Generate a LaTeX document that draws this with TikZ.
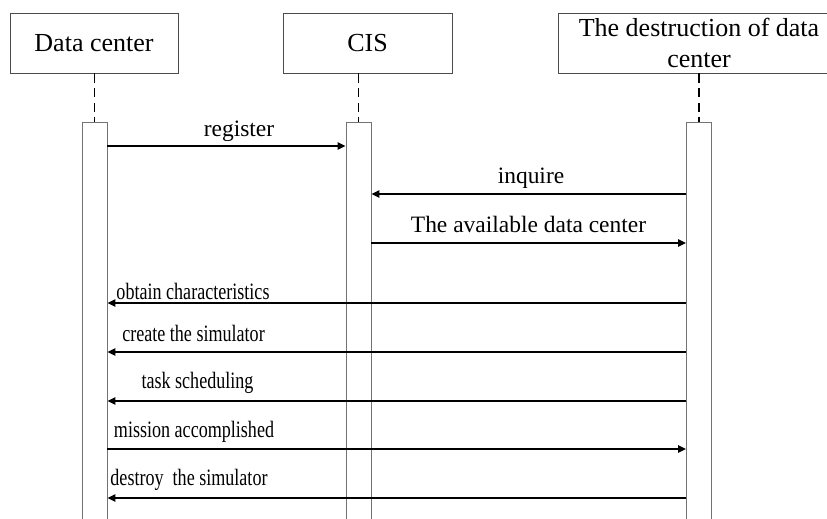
\documentclass[tikz,border=0pt]{standalone}
\usepackage{fontspec}
\setmainfont{Liberation Serif}
\usetikzlibrary{arrows.meta}

\begin{document}
\begin{tikzpicture}[
    x=0.75pt, y=-0.75pt,
    >={Triangle[length=6pt,width=5.5pt]},
    font=\fontsize{19.5}{23.3}\selectfont,
    actor/.style={draw=black!70, line width=0.7pt, minimum height=45pt, inner sep=1pt, align=center},
    bar/.style={draw=black!55, line width=0.7pt, fill=white, minimum width=18.75pt, minimum height=315pt, anchor=north},
    life/.style={line width=1.1pt, dash pattern=on 7pt off 4pt},
    msg/.style={->, line width=1.1pt},
    lbl/.style={anchor=base, font=\fontsize{17.6}{21}\selectfont},
    sqz/.style={lbl, xscale=0.77, transform shape}
]
    \useasboundingbox (0,0) rectangle (827,518);

    % Participants
    \node[actor, minimum width=126pt]   (dc)   at (94,43)  {Data center};
    \node[actor, minimum width=126.75pt] (cis) at (367.5,43) {CIS};
    \node[actor, minimum width=211.5pt] (dest) at (699,43) {The destruction of data\\center};

    % Activation bars (run off the bottom)
    \node[bar] (dcbar)   at (94.5,122)  {};
    \node[bar] (cisbar)  at (358.5,122) {};
    \node[bar] (destbar) at (699,122)   {};

    % Lifelines
    \draw[life] (dc.south -| dcbar.north) -- (dcbar.north);
    \draw[life] (cis.south -| cisbar.north) -- (cisbar.north);
    \draw[life] (dest.south -| destbar.north) -- (destbar.north);

    % Message rows
    \coordinate (m1) at (0,146);
    \coordinate (m2) at (0,194);
    \coordinate (m3) at (0,243);
    \coordinate (m4) at (0,303);
    \coordinate (m5) at (0,352);
    \coordinate (m6) at (0,401);
    \coordinate (m7) at (0,449);
    \coordinate (m8) at (0,498);

    % Messages
    \draw[msg] (dcbar.east |- m1) -- (cisbar.west |- m1);
    \node[lbl] (reg) at (239,136) {register};

    \draw[msg] (destbar.west |- m2) -- (cisbar.east |- m2);
    \node[lbl] (inq) at (531,183) {inquire};

    \draw[msg] (cisbar.east |- m3) -- (destbar.west |- m3);
    \node[lbl] (avail) at (528.5,232) {The available data center};

    \draw[msg] (destbar.west |- m4) -- (dcbar.east |- m4);
    \node[sqz] (obt) at (193,299) {obtain characteristics};

    \draw[msg] (destbar.west |- m5) -- (dcbar.east |- m5);
    \node[sqz] (crt) at (193.5,341) {create the simulator};

    \draw[msg] (destbar.west |- m6) -- (dcbar.east |- m6);
    \node[sqz] (sched) at (197.5,388) {task scheduling};

    \draw[msg] (dcbar.east |- m7) -- (destbar.west |- m7);
    \node[sqz] (done) at (194,437) {mission accomplished};

    \draw[msg] (destbar.west |- m8) -- (dcbar.east |- m8);
    \node[sqz] (dstr) at (189,485) {destroy\ \ the simulator};

\end{tikzpicture}
\end{document}
